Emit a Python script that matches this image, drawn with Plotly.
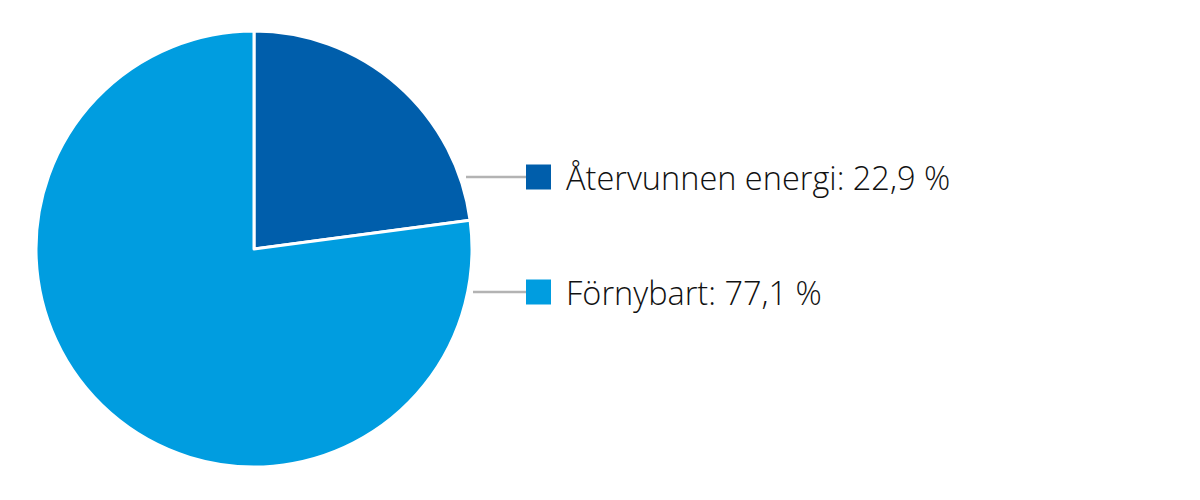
import plotly.graph_objects as go

labels = ["Återvunnen energi", "Förnybart"]
values = [22.9, 77.1]
colors = ["#005EAB", "#009DE0"]
label_texts = ["Återvunnen energi: 22,9 %", "Förnybart: 77,1 %"]

W, H = 1200, 500
OFF = 8  # page body margin


def px(x):
    return (x - OFF) / W


def py(y):
    return 1 - (y - OFF) / H


fig = go.Figure(go.Pie(
    labels=labels, values=values, sort=False, direction="clockwise", rotation=0,
    marker=dict(colors=colors, line=dict(color="white", width=3)),
    textinfo="none", hoverinfo="label+percent", showlegend=False,
    domain=dict(x=[px(36), px(472)], y=[py(467), py(31)]),
))

rows_y = [177, 292]
line_x0 = [466, 473]
shapes = []
annotations = []
for i, (txt, col) in enumerate(zip(label_texts, colors)):
    y = rows_y[i]
    shapes.append(dict(type="line", xref="paper", yref="paper",
                       x0=px(line_x0[i]), x1=px(527), y0=py(y), y1=py(y),
                       line=dict(color="#B3B3B3", width=2.5)))
    shapes.append(dict(type="rect", xref="paper", yref="paper",
                       x0=px(526), x1=px(551), y0=py(y - 12.5), y1=py(y + 12.5),
                       fillcolor=col, line=dict(width=0)))
    annotations.append(dict(text=txt, xref="paper", yref="paper", x=px(564), y=py(y),
                            xanchor="left", yanchor="middle", showarrow=False,
                            font=dict(family="Open Sans", size=32.5, weight=300, color="#111111")))

fig.update_layout(width=W, height=H, margin=dict(l=0, r=0, t=0, b=0),
                  paper_bgcolor="white", plot_bgcolor="white",
                  shapes=shapes, annotations=annotations)
fig.write_html("out.html")
